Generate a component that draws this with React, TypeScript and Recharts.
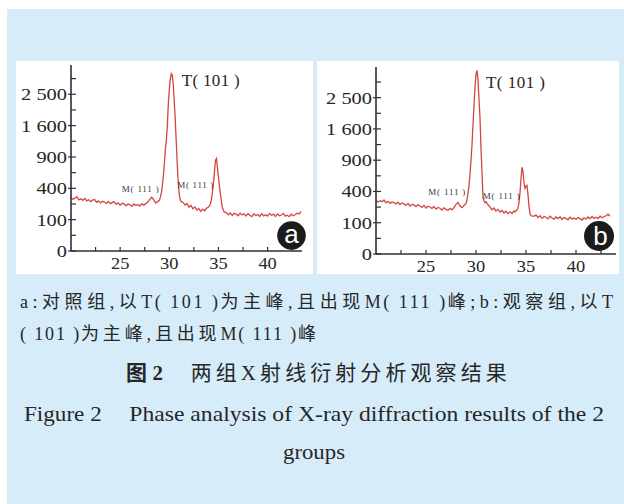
import React from 'react'
import { LineChart, Line, XAxis, YAxis } from 'recharts'

// 2θ positions (deg), finer around the two peaks
const angles = [
  20.0, 20.2, 20.4, 20.6, 20.8, 21.0, 21.2, 21.4, 21.6, 21.8,
  22.0, 22.2, 22.4, 22.6, 22.8, 23.0, 23.2, 23.4, 23.6, 23.8,
  24.0, 24.2, 24.4, 24.6, 24.8, 25.0, 25.2, 25.4, 25.6, 25.8,
  26.0, 26.2, 26.4, 26.6, 26.8, 27.0, 27.2, 27.4, 27.6, 27.8,
  28.0, 28.2, 28.4, 28.6, 28.8, 29.0,
  29.1, 29.2, 29.3, 29.4, 29.5, 29.6, 29.7, 29.8, 29.9, 30.0,
  30.1, 30.2, 30.3, 30.4, 30.5, 30.6, 30.7, 30.8, 30.9, 31.0, 31.1, 31.2,
  31.4, 31.6, 31.8, 32.0, 32.2, 32.4, 32.6, 32.8, 33.0, 33.2, 33.4, 33.6, 33.8,
  33.9, 34.0, 34.1, 34.2, 34.3, 34.4, 34.5, 34.6, 34.7, 34.8,
  34.9, 35.0, 35.1, 35.2, 35.3, 35.4, 35.5, 35.6,
  35.8, 36.0, 36.2, 36.4, 36.6, 36.8, 37.0, 37.2, 37.4, 37.6, 37.8,
  38.0, 38.2, 38.4, 38.6, 38.8, 39.0, 39.2, 39.4, 39.6, 39.8,
  40.0, 40.2, 40.4, 40.6, 40.8, 41.0, 41.2, 41.4, 41.6, 41.8,
  42.0, 42.2, 42.4, 42.6, 42.8, 43.0, 43.2, 43.4,
]

// a: control group
const intensityA = [
  290, 272, 284, 300, 266, 278, 262, 282, 256, 268,
  248, 264, 270, 242, 256, 236, 252, 244, 230, 250,
  226, 240, 246, 222, 236, 214, 232, 226, 208, 224,
  218, 204, 226, 210, 220, 206, 228, 214, 226, 244,
  268, 294, 270, 236, 246, 264,
  295, 350, 440, 580, 780, 1050, 1250, 1600, 2200, 2650,
  3000, 3200, 3150, 2850, 2300, 1800, 1250, 800, 500, 340, 270, 250,
  240, 214, 230, 196, 212, 182, 198, 170, 184, 160, 178, 164, 188,
  192, 198, 210, 232, 280, 360, 480, 650, 840, 870,
  700, 560, 430, 330, 250, 195, 168, 155,
  150, 134, 148, 128, 144, 138, 126, 146, 132, 140, 124,
  142, 130, 120, 140, 128, 136, 122, 142, 126, 134,
  124, 144, 130, 138, 122, 140, 126, 132, 144, 124,
  130, 120, 138, 126, 134, 146, 140, 160,
]

// b: observation group
const intensityB = [
  294, 276, 290, 280, 298, 268, 284, 262, 278, 270,
  256, 274, 250, 266, 258, 242, 262, 236, 252, 246,
  230, 250, 236, 222, 242, 216, 234, 226, 212, 230,
  206, 222, 214, 198, 218, 204, 196, 214, 200, 220,
  252, 270, 236, 220, 240, 262,
  300, 380, 480, 640, 900, 1220, 1700, 2250, 2850, 3300,
  3450, 3100, 2450, 1900, 1150, 680, 330, 290, 270, 280, 262, 248,
  228, 200, 216, 188, 204, 180, 194, 172, 188, 166, 182, 168, 190,
  180, 192, 198, 215, 270, 380, 580, 770, 700, 520,
  440, 470, 480, 360, 230, 165, 150, 148,
  146, 156, 136, 150, 130, 144, 138, 126, 146, 132, 124,
  140, 128, 142, 122, 136, 130, 120, 138, 126, 132,
  122, 136, 128, 118, 134, 124, 140, 128, 144, 130,
  138, 128, 146, 134, 142, 150, 162, 146,
]

const yTicks = [0, 25, 100, 225, 400, 625, 900, 1225, 1600, 2025, 2500, 3025]
const yMajor = [0, 100, 400, 900, 1600, 2500]
const yLabels = ['0', '100', '400', '900', '1 600', '2 500']
const xTicks = [22.5, 25, 27.5, 30, 32.5, 35, 37.5, 40, 42.5]
const xMajor = [25, 30, 35, 40]

const AXIS = '#2b2f36'
const LINE = '#d4453f'
const SERIF = '"Liberation Serif", "Times New Roman", serif'
const MIXED = '"Liberation Serif", "Noto Sans CJK SC", serif'
const INK = '#262626'

function YTick({ x, y, payload }: any) {
  const i = yMajor.indexOf(payload.value)
  if (i < 0) return <line x1={x} x2={x + 5} y1={y} y2={y} stroke={AXIS} strokeWidth={1.2} />
  return (
    <g>
      <line x1={x - 3} x2={x + 5} y1={y} y2={y} stroke={AXIS} strokeWidth={1.2} />
      <text transform={`translate(${x - 4},${y + 6}) scale(1.2,1)`} textAnchor="end" fontSize={17} fontFamily={SERIF} fill={INK}>
        {yLabels[i]}
      </text>
    </g>
  )
}

function XTick({ x, y, payload }: any) {
  const major = xMajor.includes(payload.value)
  return (
    <g>
      <line x1={x} x2={x} y1={y} y2={y - 4} stroke={AXIS} strokeWidth={1.2} />
      {major && (
        <text transform={`translate(${x},${y + 18}) scale(1.15,1)`} textAnchor="middle" fontSize={16} fontFamily={SERIF} fill={INK}>
          {payload.value}
        </text>
      )}
    </g>
  )
}

// the svg is a bit taller than the white panel so the x labels have room
function XrdPanel({ intensity, left, width, yAxisWidth, xAxisHeight, xMax, yMax, margin }: any) {
  const data = angles.map((angle, i) => ({ angle, intensity: intensity[i] }))
  return (
    <div style={{ position: 'absolute', left, top: 61, width, height: 213, background: '#fff', overflow: 'visible' }}>
      <LineChart width={width} height={222} data={data} margin={margin}>
        <XAxis
          dataKey="angle" type="number" domain={[20, xMax]} ticks={xTicks} interval={0}
          allowDataOverflow height={xAxisHeight} tickLine={false} tickSize={0} tickMargin={0}
          axisLine={{ stroke: AXIS, strokeWidth: 1.6 }} tick={(p: any) => <XTick {...p} />}
        />
        <YAxis
          type="number" scale="sqrt" domain={[0, yMax]} ticks={yTicks} interval={0}
          allowDataOverflow width={yAxisWidth} tickLine={false} tickSize={0} tickMargin={0}
          axisLine={{ stroke: AXIS, strokeWidth: 1.6 }} tick={(p: any) => <YTick {...p} />}
        />
        <Line dataKey="intensity" type="linear" stroke={LINE} strokeWidth={1.3} dot={false} isAnimationActive={false} />
      </LineChart>
    </div>
  )
}

const tight = { letterSpacing: 1 }

export default function App() {
  return (
    <div style={{ position: 'absolute', left: 0, top: 0, width: 624, height: 504, background: '#fff', overflow: 'hidden' }}>
      <div style={{ position: 'absolute', left: 7, top: 9, right: 0, bottom: 0, background: '#d6ecf9' }} />
      <XrdPanel
        intensity={intensityA} left={16} width={297} yAxisWidth={55} xAxisHeight={32}
        xMax={43.5} yMax={3522} margin={{ top: 4, right: 11, bottom: 0, left: 0 }}
      />
      <XrdPanel
        intensity={intensityB} left={317} width={302} yAxisWidth={59} xAxisHeight={29}
        xMax={44} yMax={3577} margin={{ top: 6, right: 3, bottom: 0, left: 0 }}
      />
      <svg width={624} height={504} style={{ position: 'absolute', left: 0, top: 0, pointerEvents: 'none' }}>
        {/* peak labels */}
        <text x={181.7} y={86} fontSize={17} fontFamily={SERIF} fill={INK} textLength={58} lengthAdjust="spacing">T( 101 )</text>
        <text x={486} y={87.7} fontSize={17} fontFamily={SERIF} fill={INK} textLength={59} lengthAdjust="spacing">T( 101 )</text>
        <text x={121.7} y={191.5} fontSize={9} fontFamily={SERIF} fill="#3a3a3a" textLength={37} lengthAdjust="spacing">M( 111 )</text>
        <text x={177.3} y={188.3} fontSize={9} fontFamily={SERIF} fill="#3a3a3a" textLength={36} lengthAdjust="spacing">M( 111 )</text>
        <text x={428.3} y={195} fontSize={9} fontFamily={SERIF} fill="#3a3a3a" textLength={37} lengthAdjust="spacing">M( 111 )</text>
        <text x={482.7} y={199} fontSize={9} fontFamily={SERIF} fill="#3a3a3a" textLength={37} lengthAdjust="spacing">M( 111 )</text>

        {/* panel badges */}
        <circle cx={291.5} cy={235.5} r={14.3} fill="#1b1b1b" />
        <text x={291.5} y={243.3} textAnchor="middle" fontSize={26} fontFamily='"Liberation Sans", Arial, sans-serif' fill="#fff">a</text>
        <circle cx={599} cy={236} r={15} fill="#1b1b1b" />
        <text x={600.5} y={245} textAnchor="middle" fontSize={26} fontFamily='"Liberation Sans", Arial, sans-serif' fill="#fff">b</text>

        {/* caption */}
        <text x={20} y={308} fontSize={18} fontFamily={MIXED} fill={INK} textLength={596} lengthAdjust="spacing" style={{ letterSpacing: 3 }}>
          a:对照组,以<tspan style={tight}>T( 101 )</tspan>为主峰,且出现<tspan style={tight}>M( 111 )</tspan>峰;b:观察组,以T
        </text>
        <text x={20} y={339.5} fontSize={18} fontFamily={MIXED} fill={INK} textLength={299} lengthAdjust="spacing" style={{ letterSpacing: 3 }}>
          <tspan style={tight}>( 101 )</tspan>为主峰,且出现<tspan style={tight}>M( 111 )</tspan>峰
        </text>
        <text x={126} y={380} fontSize={21} fontWeight={700} fontFamily={MIXED} fill={INK} textLength={37} lengthAdjust="spacing">图2</text>
        <text x={190.7} y={380} fontSize={21} fontFamily={MIXED} fill={INK} textLength={316} lengthAdjust="spacing">
          两组X射线衍射分析观察结果
        </text>
        <text x={24} y={420.5} fontSize={22} fontFamily={SERIF} fill={INK} textLength={77.7} lengthAdjust="spacingAndGlyphs">Figure 2</text>
        <text x={129.3} y={420.5} fontSize={22} fontFamily={SERIF} fill={INK} textLength={474.7} lengthAdjust="spacingAndGlyphs">
          Phase analysis of X-ray diffraction results of the 2
        </text>
        <text x={283} y={459} fontSize={22} fontFamily={SERIF} fill={INK} textLength={62} lengthAdjust="spacingAndGlyphs">groups</text>
      </svg>
    </div>
  )
}
